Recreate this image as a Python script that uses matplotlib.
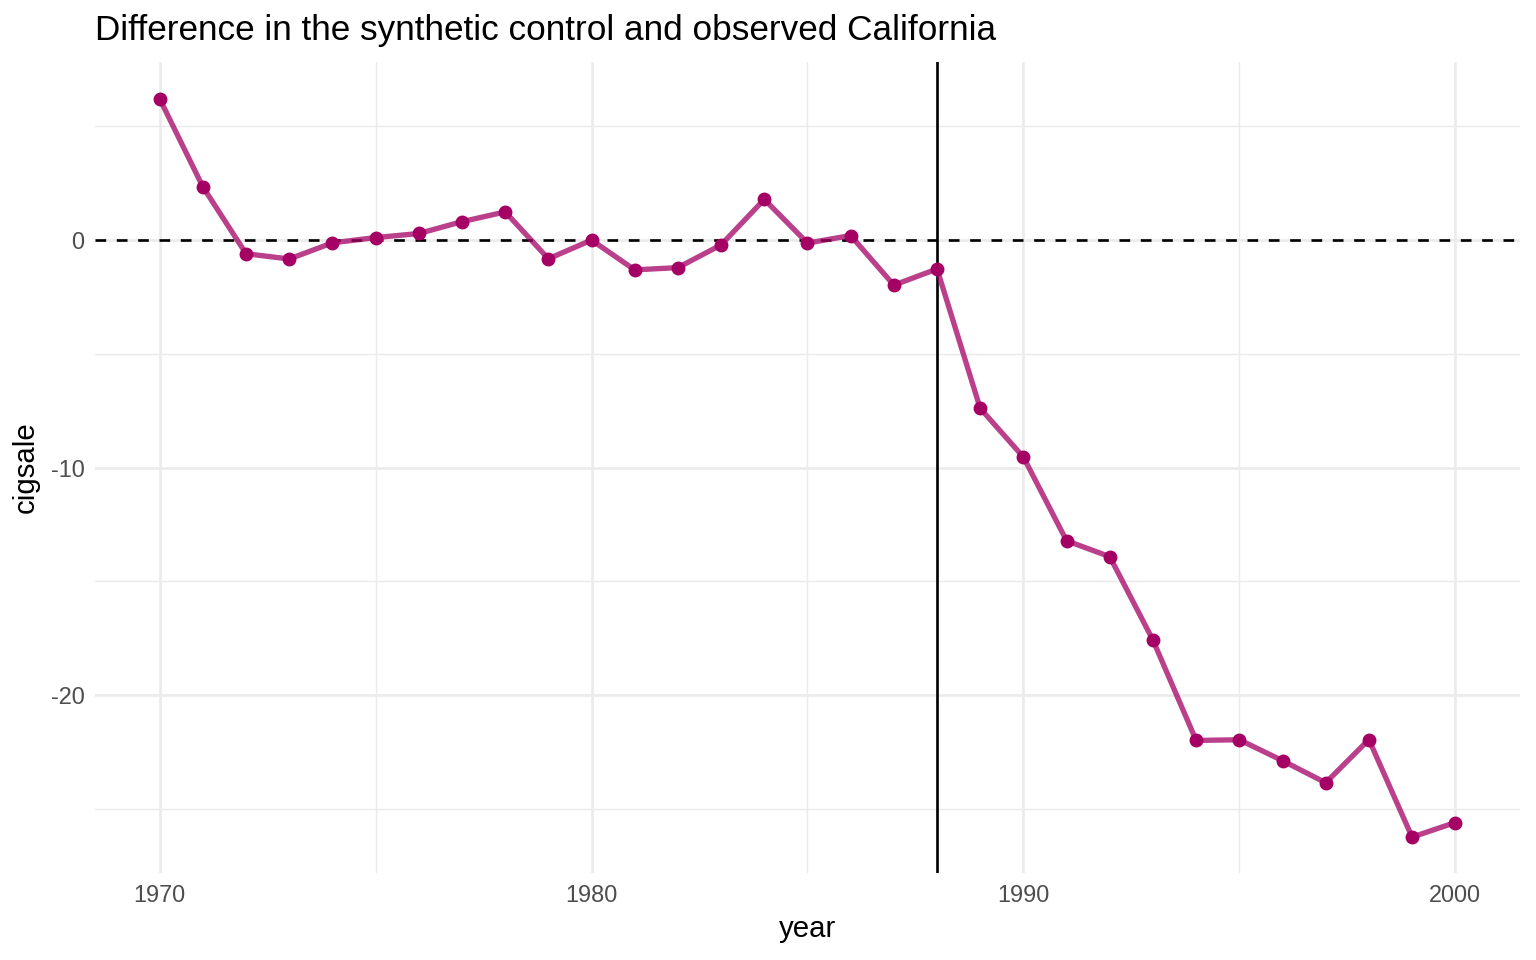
#!/usr/bin/env python3

import matplotlib
matplotlib.use("Agg")
import matplotlib.pyplot as plt
from matplotlib.ticker import MultipleLocator

years = list(range(1970, 2001))
# synthetic minus observed cigsale
gap = [6.21, 2.34, -0.60, -0.83, -0.12, 0.11, 0.29, 0.81, 1.24, -0.82,
       0.00, -1.31, -1.21, -0.21, 1.79, -0.13, 0.20, -1.98, -1.27, -7.40,
       -9.54, -13.22, -13.92, -17.59, -22.00, -21.97, -22.89, -23.86,
       -21.96, -26.25, -25.61]
treat_year = 1988

plt.rcParams["font.family"] = ["Liberation Sans", "DejaVu Sans"]
plt.rcParams["axes.unicode_minus"] = False

fig = plt.figure(figsize=(8, 5), dpi=192)
ax = fig.add_axes([0.0618, 0.0906, 0.9278, 0.8448])

# Display parameters (theme_minimal look)
for side in ax.spines.values():
  side.set_visible(False)
ax.set_xlim(1968.5, 2001.5)
ax.set_ylim(-27.83, 7.83)
ax.xaxis.set_major_locator(MultipleLocator(10))
ax.xaxis.set_minor_locator(MultipleLocator(5))
ax.yaxis.set_major_locator(MultipleLocator(10))
ax.yaxis.set_minor_locator(MultipleLocator(5))
ax.grid(True, which="major", color="#EBEBEB", linewidth=1.0)
ax.grid(True, which="minor", color="#EBEBEB", linewidth=0.55)
ax.set_axisbelow(True)
ax.tick_params(which="both", length=0, labelsize=8.8, labelcolor="#4D4D4D", pad=4)

ax.axhline(0, color="black", linestyle=(0, (4, 4)), linewidth=1.0)
ax.axvline(treat_year, color="black", linewidth=1.0)

ax.plot(years, gap, color="#A50064", alpha=0.75, linewidth=2.0, zorder=3)
ax.plot(years, gap, linestyle="none", marker="o", markersize=4.2,
        color="#A50064", zorder=4)

ax.set_xlabel("year", fontsize=11, labelpad=3)
ax.set_ylabel("cigsale", fontsize=11, labelpad=4)
fig.text(0.0618, 0.968, "Difference in the synthetic control and observed California",
         fontsize=13.2, ha="left", va="center")

fig.savefig("out.png", dpi=192)
